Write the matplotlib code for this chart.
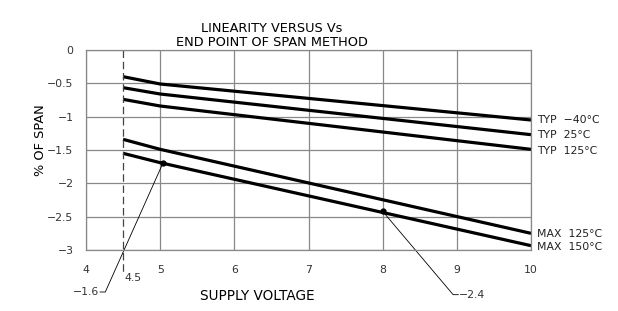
import matplotlib.pyplot as plt

plt.rcParams['font.family'] = ['DejaVu Sans']

# supply voltage breakpoints
vs = [4.5, 5, 10]
# linearity, % of span
typ_m40 = [-0.40, -0.51, -1.05]
typ_25 = [-0.565, -0.66, -1.27]
typ_125 = [-0.74, -0.84, -1.49]
max_125 = [-1.34, -1.49, -2.75]
max_150 = [-1.55, -1.69, -2.935]
series = [typ_m40, typ_25, typ_125, max_125, max_150]
labels = ['TYP  −40°C', 'TYP  25°C', 'TYP  125°C', 'MAX  125°C', 'MAX  150°C']
label_y = [-1.05, -1.28, -1.51, -2.76, -2.95]

xticks = [4, 5, 6, 7, 8, 9, 10]
yticks = [0, -0.5, -1, -1.5, -2, -2.5, -3]

fig = plt.figure(figsize=(6.18, 3.11), dpi=100)
ax = fig.add_axes([86/618, 1-250/311, 445/618, 200/311])

for ys in series:
    ax.plot(vs, ys, color='black', lw=2.3, solid_capstyle='butt')

for lab, y in zip(labels, label_y):
    ax.text(10.08, y, lab, fontsize=7.8, va='center', ha='left', clip_on=False, color='#222222')

ax.set_xlim(4, 10)
ax.set_ylim(-3, 0)
ax.set_xticks(xticks)
ax.set_yticks(yticks)
ax.set_yticklabels(['0', '−0.5', '−1', '−1.5', '−2', '−2.5', '−3'])
ax.grid(True, color='#888888', lw=0.9)
ax.tick_params(length=0, labelsize=7.8, colors='#333333', pad=9)
ax.tick_params(axis='x', pad=11)
for s in ax.spines.values():
    s.set_color('#888888')
    s.set_linewidth(0.9)

# dashed minimum supply line
ax.plot([4.5, 4.5], [0, -3.33], color='#444444', lw=0.9, ls=(0, (6, 3)), clip_on=False)
ax.text(4.52, -3.42, '4.5', fontsize=7.8, ha='left', va='center', color='#333333')

# callouts
ax.plot([5.04], [-1.69], 'o', color='black', ms=3.5)
ax.plot([5.04, 4.26, 4.19], [-1.69, -3.63, -3.63], color='black', lw=0.6, clip_on=False)
ax.text(4.18, -3.63, '−1.6', fontsize=7.8, ha='right', va='center', color='#333333')
ax.plot([8.0], [-2.42], 'o', color='black', ms=3.5)
ax.plot([8.0, 8.95, 9.02], [-2.42, -3.67, -3.67], color='black', lw=0.6, clip_on=False)
ax.text(9.03, -3.67, '−2.4', fontsize=7.8, ha='left', va='center', color='#333333')

fig.text(272/618, 1-28/311, 'LINEARITY VERSUS Vs', fontsize=9.3, ha='center', va='center')
fig.text(272/618, 1-42/311, 'END POINT OF SPAN METHOD', fontsize=9.3, ha='center', va='center')
fig.text(257/618, 1-296/311, 'SUPPLY VOLTAGE', fontsize=9.8, ha='center', va='center')
fig.text(40/618, 1-140/311, '% OF SPAN', fontsize=9.3, ha='center', va='center', rotation=90)

fig.savefig('out.png', dpi=100)
